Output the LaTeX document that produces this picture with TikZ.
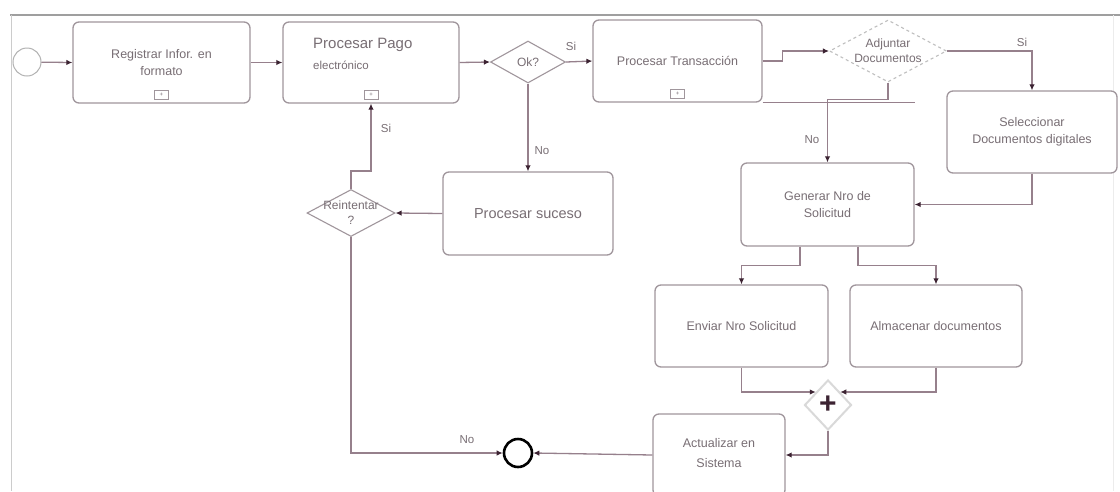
\documentclass[tikz,border=0pt]{standalone}
\usepackage{fontspec}
\setmainfont{Liberation Sans}
\usetikzlibrary{shapes.geometric,arrows.meta,calc}
\definecolor{lnc}{RGB}{150,128,140}
\definecolor{boxc}{RGB}{160,150,156}
\definecolor{txtc}{RGB}{120,110,116}
\definecolor{arrc}{RGB}{60,35,50}
\tikzset{
  task/.style={draw=boxc, line width=1.3pt, rounded corners=6pt, fill=white, align=center, text=txtc, font=\fontsize{12.5}{17}\selectfont, inner sep=2pt},
  gate/.style={draw=boxc, line width=1.1pt, diamond, inner sep=0pt, align=center, text=txtc, font=\fontsize{12}{14}\selectfont},
  gtext/.style={align=center, text=txtc, inner sep=0pt, font=\fontsize{12}{15}\selectfont},
  flow/.style={draw=lnc, line width=1.3pt, -{Latex[length=6pt,width=5.5pt,color=arrc]}},
  plain/.style={draw=lnc, line width=1.3pt},
  lbl/.style={text=txtc, font=\fontsize{11.5}{13}\selectfont, inner sep=0pt},
  marker/.style={draw=boxc, line width=1pt, minimum width=14pt, minimum height=9pt, inner sep=0pt, font=\fontsize{6}{6}\selectfont, text=txtc}
}
\begin{document}
\begin{tikzpicture}[x=1pt,y=-1pt]
\useasboundingbox (0,0) rectangle (1120,491);
\fill[white] (0,0) rectangle (1120,491);
% frame
\draw[gray!75, line width=1.6pt] (10,15) -- (1120,15);
\draw[gray!40, line width=1pt] (11,15) -- (11,491);
\draw[gray!15, line width=0.8pt] (1113,15) -- (1113,491);

% nodes
\node[circle, draw=gray!60, line width=1pt, minimum size=28pt, inner sep=0pt] (start) at (27,62) {};
\node[task, minimum width=177pt, minimum height=81pt] (reg) at (161.5,62.5) {Registrar Infor. en\\formato};
\node[task, minimum width=176pt, minimum height=81pt] (pago) at (371,62.5) {};
\node[anchor=west, text=txtc, font=\fontsize{15}{17}\selectfont, inner sep=0pt] (pagot) at (313,45) {Procesar Pago};
\node[anchor=west, text=txtc, font=\fontsize{11.5}{13}\selectfont, inner sep=0pt] (pagot2) at (313,65) {electrónico};
\node[gate, minimum width=75pt, minimum height=42pt] (ok) at (528,62) {};
\node[gtext] (okt) at (ok.center) {Ok?};
\node[task, minimum width=169pt, minimum height=82pt] (trans) at (677.5,61) {Procesar Transacción};
\node[gate, dashed, draw=gray!50, minimum width=117pt, minimum height=62pt] (adj) at (888,51) {};
\node[gtext] (adjt) at (adj.center) {Adjuntar\\Documentos};
\node[task, minimum width=170pt, minimum height=82pt] (sel) at (1032,132) {Seleccionar\\Documentos digitales};
\node[task, minimum width=173pt, minimum height=83pt] (gen) at (827.5,204.5) {Generar Nro de\\Solicitud};
\node[task, minimum width=170pt, minimum height=83pt, font=\fontsize{14.5}{17}\selectfont] (proc) at (528,213.5) {Procesar suceso};
\node[gate, minimum width=88pt, minimum height=47pt] (reint) at (351,213) {};
\node[gtext] (reintt) at (reint.center) {Reintentar\\?};
\node[task, minimum width=173pt, minimum height=82pt] (env) at (741.5,326) {Enviar Nro Solicitud};
\node[task, minimum width=172pt, minimum height=82pt] (alm) at (936,326) {Almacenar documentos};
\node[diamond, draw=gray!30, line width=2pt, minimum width=47pt, minimum height=50pt, inner sep=0pt] (gw) at (828,405) {};
\node[text=arrc, font=\fontsize{30}{30}\selectfont\bfseries, inner sep=0pt] (gwplus) at (gw.center) {+};
\node[task, minimum width=132pt, minimum height=82pt] (act) at (719,455) {};
\node[text=txtc, align=center, font=\fontsize{12.5}{20}\selectfont] (actt) at (719,453) {Actualizar en\\Sistema};
\node[circle, draw=black, line width=2.6pt, minimum size=28pt, inner sep=0pt] (end) at (518,453) {};

% subprocess markers
\node[marker] (m1) at ($(reg.south)+(0,-9)$) {+};
\node[marker] (m2) at ($(pago.south)+(0,-9)$) {+};
\node[marker] (m3) at ($(trans.south)+(0,-9)$) {+};

% connectors
\draw[flow] (start) -- (reg.west);
\draw[flow] (reg.east) -- (pago.west);
\draw[flow] (pago.east) -- (ok.west);
\draw[flow] (ok.east) -- (trans.west);
\node[lbl] (si1) at (571,46) {Si};
\draw[flow] (trans.east) -- ++(20,0) |- (adj.west);
\draw[flow] (adj.east) -| (sel.north);
\node[lbl] (si2) at (1022,42) {Si};
\draw[plain] (trans.south east) -- (gen.north east |- trans.south);
\draw[flow] (adj.south) -- ++(0,17) -| (gen.north);
\node[lbl] (no1) at (812,140) {No};
\draw[flow] (sel.south) |- (gen.east);
\draw[flow] ([xshift=-27.5pt]gen.south) -- ++(0,19) -| (env.north);
\draw[flow] ([xshift=30.5pt]gen.south) -- ++(0,19) -| (alm.north);
\draw[flow] (env.south) |- (gw.north west);
\draw[flow] (alm.south) |- (gw.north east);
\draw[flow] (gw.south) |- (act.east);
\draw[flow] (act.west) -- (end.east);
\draw[flow] (ok.south) -- (proc.north);
\node[lbl] (no2) at (542,151) {No};
\draw[flow] (proc.west) -- (reint.east);
\draw[flow] (reint.south) |- (end.west);
\node[lbl] (no3) at (467,440) {No};
\draw[flow] (reint.north) -- ++(0,-18) -| (pago.south);
\node[lbl] (si3) at (386,128) {Si};
\end{tikzpicture}
\end{document}
